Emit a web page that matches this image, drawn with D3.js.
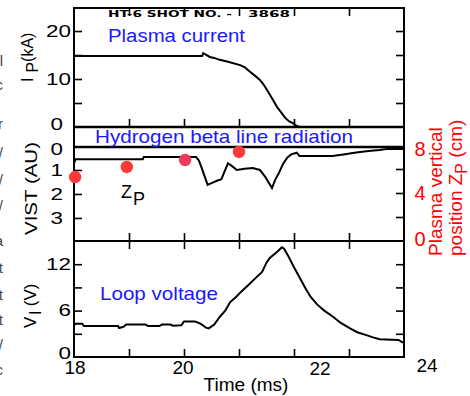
<!DOCTYPE html>
<html>
<head>
<meta charset="utf-8">
<script src="https://cdnjs.cloudflare.com/ajax/libs/d3/7.8.5/d3.min.js"></script>
<style>
  body { margin: 0; background: #fff; }
  svg { display: block; font-family: "Liberation Sans", Arial, sans-serif; }
</style>
</head>
<body>
<svg id="chart" width="470" height="396"></svg>
<script>
// ---- data ----
var timeTicks = [18, 19, 20, 21, 22, 23, 24];
var timeLabels = [18, 20, 22, 24];

// plasma current Ip (kA)
var ipTime = [18.0, 20.33, 20.35, 20.47, 20.55, 20.65, 20.8, 21.02, 21.1, 21.2, 21.3, 21.38, 21.45, 21.51, 21.6, 21.69, 21.77, 21.84, 21.92, 21.98, 22.05, 22.1, 24.0];
var ipVal  = [14.8, 14.8, 15.4, 14.6, 14.4, 14.0, 13.6, 12.9, 12.5, 11.5, 10.6, 9.8, 8.8, 7.7, 6.0, 4.2, 3.0, 1.9, 1.1, 0.8, 0.2, 0, 0];
var ipTicks = [5, 10, 15, 20];
var ipLabels = [0, 10, 20];

// H-beta line radiation VIST (AU)
var vistTime = [18.0, 18.03, 19.25, 19.27, 20.22, 20.27, 20.32, 20.38, 20.43, 20.5, 20.6, 20.68, 20.74, 20.8, 20.88, 20.96, 21.1, 21.25, 21.38, 21.48, 21.6, 21.66, 21.72, 21.8, 21.88, 21.95, 22.05, 22.1, 22.7, 22.9, 23.07, 23.2, 23.4, 23.56, 23.7, 24.0];
var vistVal  = [0.72, 0.55, 0.55, 0.46, 0.46, 0.6, 0.9, 1.3, 1.62, 1.55, 1.45, 1.38, 1.05, 0.72, 0.85, 1.0, 0.95, 0.92, 1.0, 1.3, 1.75, 1.4, 1.15, 0.75, 0.48, 0.35, 0.28, 0.42, 0.42, 0.35, 0.29, 0.25, 0.2, 0.17, 0.12, 0.12];
var vistTicks = [1, 2, 3];
var vistLabels = [0, 1, 2, 3];

// plasma vertical position Zp (cm)
var zpTime = [18.02, 18.96, 20.02, 21.0];
var zpVal  = [5.33, 6.17, 6.75, 7.42];
var zpTicks = [2, 4, 6];
var zpLabels = [0, 4, 8];

// loop voltage Vl (V)
var vlTime = [18.0, 18.03, 18.15, 18.18, 18.8, 18.82, 18.9, 18.95, 19.3, 19.35, 19.55, 19.6, 19.75, 19.8, 19.95, 20.0, 20.2, 20.3, 20.4, 20.45, 20.55, 20.65, 20.75, 20.84, 20.95, 21.02, 21.2, 21.3, 21.42, 21.5, 21.56, 21.71, 21.78, 21.82, 21.9, 22.0, 22.1, 22.2, 22.3, 22.42, 22.55, 22.71, 22.85, 23.02, 23.15, 23.33, 23.45, 23.56, 23.9, 23.97, 24.0];
var vlVal  = [4.1, 4.3, 4.3, 4.0, 4.0, 3.75, 3.9, 4.2, 4.2, 4.0, 4.0, 4.2, 4.2, 4.05, 4.1, 4.6, 4.6, 4.3, 3.8, 3.7, 4.2, 5.2, 6.0, 7.1, 7.8, 8.3, 9.5, 10.2, 11.0, 12.2, 12.8, 13.7, 14.2, 14.0, 13.0, 11.6, 10.3, 9.0, 7.8, 6.8, 6.0, 5.2, 4.4, 3.7, 3.2, 2.8, 2.5, 2.3, 2.2, 1.9, 1.9];
var vlTicks = [3, 6, 9, 12];
var vlLabels = [0, 6, 12];

// ---- layout ----
var left = 74, right = 404;
var svg = d3.select('#chart');

var x = d3.scaleLinear().domain([18, 24]).range([left, right]);
var yIp = d3.scaleLinear().domain([0, 24.8]).range([127, 8]);
var yVist = d3.scaleLinear().domain([0, 3.96]).range([146, 241]);
var yZp = d3.scaleLinear().domain([0, 8]).range([241, 145]);
var yVl = d3.scaleLinear().domain([0, 15]).range([357, 241]);

// traces
function trace(ts, vs, y) {
  var pts = ts.map(function(t, i) { return [t, vs[i]]; });
  svg.append('path')
    .datum(pts)
    .attr('fill', 'none')
    .attr('stroke', '#000')
    .attr('stroke-width', 2)
    .attr('stroke-linejoin', 'miter')
    .attr('d', d3.line().x(function(d) { return x(d[0]); }).y(function(d) { return y(d[1]); }));
}
trace(ipTime, ipVal, yIp);
trace(vistTime, vistVal, yVist);
trace(vlTime, vlVal, yVl);

// frame lines
function hline(y, w) {
  svg.append('line').attr('x1', left).attr('x2', right).attr('y1', y).attr('y2', y)
    .attr('stroke', '#000').attr('stroke-width', w);
}
hline(8, 2); hline(127, 2.5); hline(147, 2.5); hline(241, 2); hline(357, 2);
[left, right].forEach(function(xx) {
  svg.append('line').attr('x1', xx).attr('x2', xx).attr('y1', 7).attr('y2', 358)
    .attr('stroke', '#000').attr('stroke-width', 2);
});

// time ticks (inward) via d3 axes
function timeAxis(axisFn, y, size) {
  var g = svg.append('g').attr('transform', 'translate(0,' + y + ')')
    .call(axisFn(x).tickValues(timeTicks.slice(1, -1)).tickSize(size).tickFormat(''));
  g.select('.domain').remove();
  g.selectAll('line').attr('stroke-width', 1.6);
}
timeAxis(d3.axisTop, 8, -8);
timeAxis(d3.axisBottom, 127, -8);
timeAxis(d3.axisBottom, 241, -8);
timeAxis(d3.axisTop, 241, -8);
timeAxis(d3.axisBottom, 357, -8);

// value ticks (inward) on left and right
function valueAxis(scale, ticks, side) {
  var fn = side == 'left' ? d3.axisLeft : d3.axisRight;
  var g = svg.append('g').attr('transform', 'translate(' + (side == 'left' ? left : right) + ',0)')
    .call(fn(scale).tickValues(ticks).tickSize(-8).tickFormat(''));
  g.select('.domain').remove();
  g.selectAll('line').attr('stroke-width', 1.6);
}
valueAxis(yIp, ipTicks, 'left');
valueAxis(yIp, ipTicks, 'right');
valueAxis(yVist, vistTicks, 'left');
valueAxis(yZp, zpTicks, 'right');
valueAxis(yVl, vlTicks, 'left');
valueAxis(yVl, vlTicks, 'right');

// left tick labels, drawn wide like the original
function leftLabels(scale, vals, xr, shiftZero) {
  vals.forEach(function(v) {
    var y = scale(v) + (v == 0 ? shiftZero : 0);
    svg.append('text')
      .attr('transform', 'translate(' + (v == 0 && xr.zero ? xr.zero : xr.other) + ',' + (y + 5.7) + ') scale(1.4,1)')
      .attr('text-anchor', 'end')
      .attr('font-size', 16)
      .attr('fill', '#000')
      .text(v);
  });
}
leftLabels(yIp, ipLabels, {other: 71, zero: 63}, -3);
leftLabels(yVist, vistLabels, {other: 63}, 3);
leftLabels(yVl, vlLabels, {other: 71}, -4);

// right (red) tick labels
zpLabels.forEach(function(v) {
  svg.append('text')
    .attr('x', 420).attr('y', yZp(v) + 7 + (v == 0 ? -2 : (v == 8 ? 4 : 0)))
    .attr('text-anchor', 'middle')
    .attr('font-size', 20)
    .attr('fill', '#ff0000')
    .text(v);
});

// bottom time labels (22 and 24 sit off their ticks in the original)
var timeLabelShift = {18: 1, 20: -1, 22: 26, 24: 23};
var timeLabelDy = {18: 0, 20: 0, 22: 1, 24: -2};
timeLabels.forEach(function(t) {
  svg.append('text')
    .attr('x', x(t) + timeLabelShift[t]).attr('y', 374 + timeLabelDy[t])
    .attr('text-anchor', 'middle')
    .attr('font-size', 19)
    .attr('fill', '#000')
    .text(t);
});
svg.append('text').attr('x', 246).attr('y', 391).attr('text-anchor', 'middle')
  .attr('font-size', 19).text('Time (ms)');

// Zp dots
var dotColors = ['#ff3838', '#ff3838', '#f03a5e', '#ff3838'];
svg.selectAll('circle.zp')
  .data(zpTime)
  .enter()
  .append('circle')
  .attr('class', 'zp')
  .attr('cx', function(d) { return x(d); })
  .attr('cy', function(d, i) { return yZp(zpVal[i]); })
  .attr('r', 6.2)
  .attr('fill', function(d, i) { return dotColors[i]; });

// Zp annotation
var zt = svg.append('text').attr('x', 121).attr('y', 198).attr('font-size', 18);
zt.append('tspan').text('Z');
zt.append('tspan').attr('dy', 7).attr('dx', 1).text('P');

// blue panel titles
var blue = '#1a1aff';
svg.append('text').attr('x', 108).attr('y', 42).attr('font-size', 18).attr('fill', blue)
  .attr('textLength', 137).attr('lengthAdjust', 'spacingAndGlyphs').text('Plasma current');
svg.append('text').attr('x', 95).attr('y', 143).attr('font-size', 19).attr('fill', blue)
  .attr('textLength', 258).attr('lengthAdjust', 'spacingAndGlyphs').text('Hydrogen beta line radiation');
svg.append('text').attr('x', 100).attr('y', 300).attr('font-size', 19).attr('fill', blue)
  .attr('textLength', 118).attr('lengthAdjust', 'spacingAndGlyphs').text('Loop voltage');

// shot number header (blurry in the original)
svg.append('text').attr('x', 108).attr('y', 17).attr('font-size', 8).attr('font-weight', 900)
  .attr('font-family', 'DejaVu Sans')
  .attr('textLength', 124).attr('lengthAdjust', 'spacingAndGlyphs').text('HT-6 SHOT NO. -');
svg.append('text').attr('x', 248).attr('y', 17).attr('font-size', 8).attr('font-weight', 900)
  .attr('font-family', 'DejaVu Sans')
  .attr('textLength', 42).attr('lengthAdjust', 'spacingAndGlyphs').text('3868');

// rotated y titles
var ip = svg.append('text').attr('transform', 'translate(33,82) rotate(-90)').attr('font-size', 16);
ip.append('tspan').text('I');
ip.append('tspan').attr('dx', 5).attr('dy', 5).text('P');
ip.append('tspan').attr('dy', -5).text('(kA)');

svg.append('text').attr('transform', 'translate(37,235) rotate(-90)').attr('font-size', 17)
  .attr('textLength', 93).attr('lengthAdjust', 'spacingAndGlyphs').text('VIST (AU)');

var vl = svg.append('text').attr('transform', 'translate(36,328) rotate(-90)').attr('font-size', 17);
vl.append('tspan').text('V');
vl.append('tspan').attr('dx', 2).attr('dy', 5).text('l');
vl.append('tspan').attr('dy', -5).text(' (V)');

var red = '#ff0000';
svg.append('text').attr('transform', 'translate(442,256) rotate(-90)').attr('font-size', 19)
  .attr('fill', red).text('Plasma vertical');
var pz = svg.append('text').attr('transform', 'translate(462,256) rotate(-90)').attr('font-size', 19)
  .attr('fill', red);
pz.append('tspan').text('position Z');
pz.append('tspan').attr('dy', 5).attr('font-size', 16).text('P');
pz.append('tspan').attr('dy', -5).text(' (cm)');

// cut-off letters along the left edge of the scan
var edgeChars = ['l', 'c', 'r', '/', '/', '/', 'a', 't', 't', 't', '/', 'c'];
var edgeY = [66, 90, 129, 158, 185, 211, 246, 273, 300, 325, 350, 375];
edgeChars.forEach(function(c, i) {
  svg.append('text').attr('x', 3).attr('y', edgeY[i]).attr('text-anchor', 'end')
    .attr('font-size', 15).attr('fill', '#444').text(c);
});
</script>
</body>
</html>
